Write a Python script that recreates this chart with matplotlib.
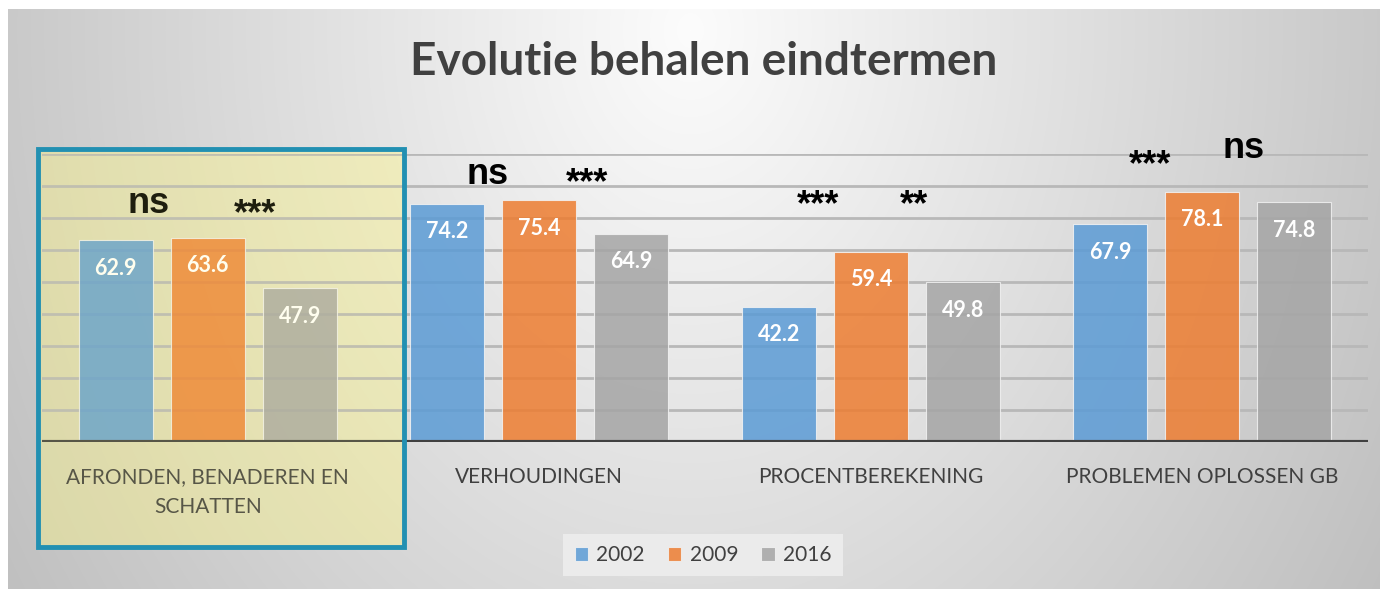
import numpy as np
import matplotlib.pyplot as plt
from matplotlib.patches import Rectangle

# data
categories = ['AFRONDEN, BENADEREN EN\nSCHATTEN', 'VERHOUDINGEN', 'PROCENTBEREKENING', 'PROBLEMEN OPLOSSEN GB']
years = ['2002', '2009', '2016']
scores_2002 = [62.9, 74.2, 42.2, 67.9]
scores_2009 = [63.6, 75.4, 59.4, 78.1]
scores_2016 = [47.9, 64.9, 49.8, 74.8]
sig_left = ['ns', 'ns', '***', '***']
sig_right = ['***', '***', '**', 'ns']

# styling
colors = ['#5b9bd5', '#ed7d31', '#a5a5a5']
bar_width = 0.223
bar_step = 0.2775
label_font = 'Lato'
text_color = '#404040'

W, H = 1380, 589
fig = plt.figure(figsize=(W / 100, H / 100), dpi=100)
fig.patch.set_facecolor('white')

# background gradient of the chart area
bg = fig.add_axes([0, 0, 1, 1], zorder=0)
yy, xx = np.mgrid[0:H, 0:W]
d = np.sqrt(((xx - 690) / 700.0) ** 2 + ((yy - 30) / 900.0) ** 2)
g = np.clip(252 - 52 * d, 0, 255) / 255.0
img = np.dstack([g, g, g])
img[:9, :] = 1.0
img[:, :8] = 1.0
bg.imshow(img, extent=(0, W, H, 0), aspect='auto', interpolation='bilinear')
bg.set_xlim(0, W)
bg.set_ylim(H, 0)
bg.axis('off')

# yellow fill of the highlight box, behind the bars
bg.add_patch(Rectangle((38, 149), 366, 398, facecolor='#fff88a', alpha=0.33,
                       edgecolor='none', zorder=2))

# main axes: baseline at y=442px, 90 at y=153.5px, x from 42 to 1368 px
ax = fig.add_axes([42 / W, (H - 442) / H, 1326 / W, 288.5 / H], zorder=1)
ax.set_facecolor('none')

x = np.arange(len(categories))
series = [scores_2002, scores_2009, scores_2016]
for i, (vals, col, yr) in enumerate(zip(series, colors, years)):
    pos = x + (i - 1) * bar_step
    ax.bar(pos, vals, width=bar_width, color=col, alpha=0.85,
           edgecolor='#f2f2f2', linewidth=0.8, label=yr, zorder=3)
    for px, v in zip(pos, vals):
        ax.annotate(f'{v:.1f}', (px, v), xytext=(0, -20), textcoords='offset points',
                    ha='center', va='center', color='white', fontsize=15.5,
                    fontweight='bold', family=label_font, zorder=4)

# significance marks
left_pos = [(-0.18, 71.4), (-0.155, 80.5), (-0.159, 70.7), (-0.158, 83.2)]
right_pos = [(0.142, 67.9), (0.143, 77.5), (0.129, 70.7), (0.125, 88.6)]
for i in range(len(categories)):
    for lab, (dx, yv) in ((sig_left[i], left_pos[i]), (sig_right[i], right_pos[i])):
        ax.text(i + dx, yv, lab, ha='center', va='baseline', fontsize=26,
                fontweight='bold', family='Liberation Sans', color='black',
                zorder=5, clip_on=False)

ax.set_xlim(-0.5, 3.5)
ax.set_ylim(0, 90)
ax.set_yticks(np.arange(10, 91, 10))
ax.yaxis.grid(True, color='#b8b8b8', linewidth=2, zorder=1)
ax.set_axisbelow(True)
ax.tick_params(axis='y', left=False, labelleft=False)
ax.set_xticks(x)
ax.set_xticklabels(categories, family=label_font, fontsize=15, color=text_color,
                   linespacing=1.6)
ax.tick_params(axis='x', length=0, pad=18)
for s in ax.spines.values():
    s.set_visible(False)
ax.axhline(0, color='#404040', linewidth=3, zorder=4)

# title
fig.text(704 / W, 1 - 62 / H, 'Evolutie behalen eindtermen', ha='center', va='center',
         fontsize=33, fontweight='bold', family=label_font, color=text_color)

# legend
leg = fig.legend(loc='center', bbox_to_anchor=(703 / W, 1 - 555 / H), ncol=3,
                 frameon=True, fancybox=False, prop={'family': label_font, 'size': 15},
                 handlelength=0.65, handleheight=0.65, handletextpad=0.4,
                 columnspacing=1.1, borderpad=0.55)
leg.get_frame().set_facecolor('#ebebeb')
leg.get_frame().set_edgecolor('none')
leg.get_frame().set_alpha(1)
for t in leg.get_texts():
    t.set_color(text_color)
for h in leg.legend_handles:
    h.set_alpha(0.85)

# light tint over the bars plus the teal border of the highlight box
tint = Rectangle((38, 149), 366, 398, transform=bg.transData, facecolor='#fff77a',
                 alpha=0.12, edgecolor='none', zorder=6)
fig.add_artist(tint)
box_edge = Rectangle((38, 149), 366, 398, transform=bg.transData, facecolor='none',
                     edgecolor='#2290b2', linewidth=3.5, zorder=7)
fig.add_artist(box_edge)

fig.savefig('out.png', dpi=100)
